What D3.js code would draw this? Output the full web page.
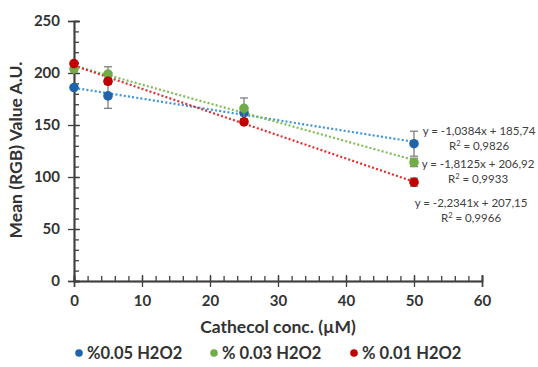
<!DOCTYPE html>
<html>
<head>
<meta charset="utf-8">
<script src="https://cdn.jsdelivr.net/npm/d3@7"></script>
<style>
  body { margin: 0; background: #fff; }
  svg text { font-family: Lato, "Open Sans", sans-serif; }
</style>
</head>
<body>
<div id="chart"></div>
<script>
// data
const concs = [0, 5, 25, 50];
const seriesNames = ['%0.05 H2O2', '% 0.03 H2O2', '% 0.01 H2O2'];
const blueVals = [186, 178, 162, 132];
const blueErr = [0, 12, 3, 12];
const greenVals = [204, 199, 166, 114];
const greenErr = [3, 7, 10, 4];
const redVals = [209, 192, 153, 95];
const redErr = [2, 3, 2, 4];
const slopes = [-1.0384, -1.8125, -2.2341];
const intercepts = [185.74, 206.92, 207.15];
const eqLabels = ['y = -1,0384x + 185,74', 'y = -1,8125x + 206,92', 'y = -2,2341x + 207,15'];
const r2Labels = ['0,9826', '0,9933', '0,9966'];
const yTicks = [0, 50, 100, 150, 200, 250];
const xTicks = [0, 10, 20, 30, 40, 50, 60];

const W = 538, H = 367;
const markerCol = ['#1F64AB', '#70AD47', '#C00000'];
const lineCol = ['#3D94DC', '#7DBE55', '#E0302E'];

const svg = d3.select('#chart').append('svg')
  .attr('width', W).attr('height', H);

const x = d3.scaleLinear().domain([0, 60]).range([74, 482]);
const y = d3.scaleLinear().domain([0, 250]).range([281, 21]);

const axisCol = '#404040';
const textCol = '#333';

function styleAxis(g) {
  g.selectAll('path.domain').attr('stroke', axisCol).attr('stroke-width', 1.5);
  g.selectAll('.tick line').attr('stroke', axisCol).attr('stroke-width', 1.3);
  g.selectAll('text').attr('fill', textCol).style('font-size', '15px').style('font-weight', 700);
}

// y axis: minor ticks (right), major ticks crossing
const gy = svg.append('g').attr('transform', `translate(${x(0)},0)`);
gy.append('g').call(d3.axisRight(y).tickValues(d3.range(0, 251, 10)).tickSize(5).tickFormat(''));
gy.append('g').call(d3.axisRight(y).tickValues(yTicks).tickSize(6).tickFormat(''));
gy.append('g').call(d3.axisLeft(y).tickValues(yTicks).tickSize(6).tickPadding(8).tickFormat(d3.format('d')));
styleAxis(gy);

// x axis: minor ticks (up), major ticks crossing
const gx = svg.append('g').attr('transform', `translate(0,${y(0)})`);
gx.append('g').call(d3.axisTop(x).tickValues(d3.range(0, 61, 2)).tickSize(5).tickFormat(''));
gx.append('g').call(d3.axisTop(x).tickValues(xTicks).tickSize(6).tickFormat(''));
gx.append('g').call(d3.axisBottom(x).tickValues(xTicks).tickSize(6).tickPadding(8).tickFormat(d3.format('d')));
styleAxis(gx);

// axis titles
svg.append('text')
  .attr('x', 278).attr('y', 333)
  .attr('text-anchor', 'middle')
  .attr('fill', textCol).style('font-size', '17.5px').style('font-weight', 700)
  .text('Cathecol conc. (µM)');
svg.append('text')
  .attr('transform', `translate(22,150) rotate(-90)`)
  .attr('text-anchor', 'middle')
  .attr('fill', textCol).style('font-size', '17.5px').style('font-weight', 700)
  .text('Mean (RGB) Value A.U.');

const series = [
  { vals: blueVals, err: blueErr },
  { vals: greenVals, err: greenErr },
  { vals: redVals, err: redErr }
];

// trend lines
series.forEach((s, i) => {
  svg.append('line')
    .attr('x1', x(0)).attr('y1', y(intercepts[i]))
    .attr('x2', x(50)).attr('y2', y(slopes[i] * 50 + intercepts[i]))
    .attr('stroke', lineCol[i]).attr('stroke-width', 2.2)
    .attr('stroke-dasharray', '2,2.2');
});

// error bars + markers
series.forEach((s, i) => {
  const g = svg.append('g');
  concs.forEach((c, j) => {
    const e = s.err[j];
    if (e > 0) {
      g.append('line')
        .attr('x1', x(c)).attr('x2', x(c))
        .attr('y1', y(s.vals[j] - e)).attr('y2', y(s.vals[j] + e))
        .attr('stroke', '#7f7f7f').attr('stroke-width', 1.3);
      [s.vals[j] - e, s.vals[j] + e].forEach(v => {
        g.append('line')
          .attr('x1', x(c) - 4).attr('x2', x(c) + 4)
          .attr('y1', y(v)).attr('y2', y(v))
          .attr('stroke', '#7f7f7f').attr('stroke-width', 1.3);
      });
    }
    g.append('circle')
      .attr('cx', x(c)).attr('cy', y(s.vals[j]))
      .attr('r', 4.8)
      .attr('fill', markerCol[i]);
  });
});

// equation labels
const eqPos = [[479, 135], [478, 168], [471, 207]];
eqLabels.forEach((t, i) => {
  const g = svg.append('g').attr('transform', `translate(${eqPos[i][0]},${eqPos[i][1]})`);
  g.append('text').attr('text-anchor', 'middle')
    .attr('fill', '#404040').style('font-size', '11.5px')
    .text(t);
  const r = g.append('text').attr('text-anchor', 'middle').attr('y', 14.5)
    .attr('fill', '#404040').style('font-size', '11.5px');
  r.append('tspan').text('R');
  r.append('tspan').attr('dy', -4).style('font-size', '7.5px').text('2');
  r.append('tspan').attr('dy', 4).text(' = ' + r2Labels[i]);
});

// legend
const legX = [79, 214, 354];
seriesNames.forEach((n, i) => {
  svg.append('circle').attr('cx', legX[i]).attr('cy', 353).attr('r', 3.8).attr('fill', markerCol[i]);
  svg.append('text').attr('x', legX[i] + 8).attr('y', 359)
    .attr('fill', textCol).style('font-size', '16.5px').style('font-weight', 700)
    .text(n);
});
</script>
</body>
</html>
